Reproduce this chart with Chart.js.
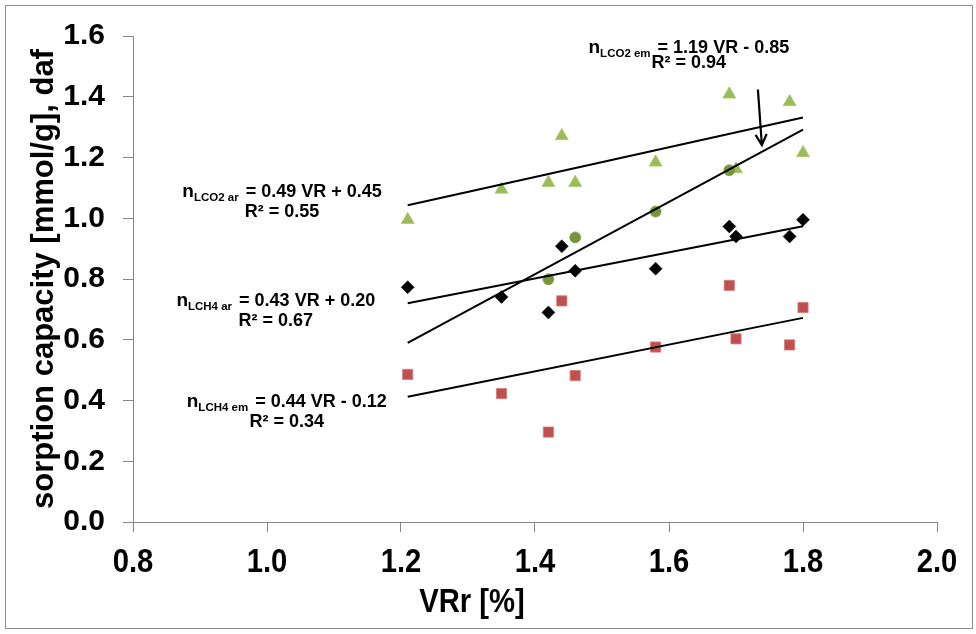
<!DOCTYPE html>
<html>
<head>
<meta charset="utf-8">
<script src="https://cdn.jsdelivr.net/npm/chart.js@4.4.1/dist/chart.umd.min.js"></script>
<style>
  html, body { margin: 0; padding: 0; background: #ffffff; }
  #wrap { width: 976px; height: 634px; }
</style>
</head>
<body>
<div id="wrap"><canvas id="chart" width="976" height="634"></canvas></div>
<script>
// Vitrinite reflectance of the coal samples [%]
const vrSamples = [1.21, 1.35, 1.42, 1.44, 1.46, 1.58, 1.69, 1.70, 1.78, 1.80];
const vrCO2em = [1.42, 1.46, 1.58, 1.69];

// Sorption capacity [mmol/g], daf
const nCO2ar = [0.995, 1.095, 1.117, 1.271, 1.117, 1.184, 1.408, 1.162, 1.383, 1.215];
const nCO2em = [0.799, 0.937, 1.022, 1.158];
const nCH4ar = [0.773, 0.741, 0.690, 0.908, 0.827, 0.834, 0.973, 0.940, 0.940, 0.995];
const nCH4em = [0.486, 0.423, 0.296, 0.728, 0.482, 0.576, 0.779, 0.603, 0.583, 0.706];

// Linear fits: n = slope * VR + intercept   (order: CO2 em, CO2 ar, CH4 ar, CH4 em)
const fitNames = ['LCO2 em', 'LCO2 ar', 'LCH4 ar', 'LCH4 em'];
const fitSlopes = [1.19, 0.49, 0.43, 0.44];
const fitIntercepts = [-0.85, 0.45, 0.20, -0.12];
const fitR2 = [0.94, 0.55, 0.67, 0.34];
const fitRange = [1.21, 1.80];

// Axis ticks
const xTicks = [0.8, 1.0, 1.2, 1.4, 1.6, 1.8, 2.0];
const yTicks = [0.0, 0.2, 0.4, 0.6, 0.8, 1.0, 1.2, 1.4, 1.6];

const pts = (xs, ys) => xs.map((x, i) => ({ x: x, y: ys[i] }));
const fitLine = (k) => fitRange.map(x => ({ x: x, y: fitSlopes[k] * x + fitIntercepts[k] }));

// Equation label placement (in axis units) and arrow pointing at the CO2 em fit
const labelPlacement = [
  { x: 1.6296, y1: 1.5660, y2: 1.5150 },
  { x: 1.0225, y1: 1.0900, y2: 1.0250 },
  { x: 1.0131, y1: 0.7314, y2: 0.6651 },
  { x: 1.0295, y1: 0.3993, y2: 0.3331 }
];
const arrowFrom = { x: 1.7327, y: 1.424 };
const arrowTo = { x: 1.7386, y: 1.241 };

const FONT = '"Liberation Sans", Arial, Helvetica, sans-serif';
const AXIS_GREY = '#868686';
const X_SQUEEZE = 0.86;   // horizontal squeeze of the x-axis lettering

function fmtEq(k) {
  const a = fitSlopes[k].toFixed(2);
  const b = fitIntercepts[k];
  const sign = b < 0 ? '-' : '+';
  return '= ' + a + ' VR ' + sign + ' ' + Math.abs(b).toFixed(2);
}

function drawParts(ctx, cx, baseline, parts) {
  let total = 0;
  parts.forEach(p => {
    ctx.font = p.font;
    p.w = ctx.measureText(p.t).width + (p.gap || 0);
    total += p.w;
  });
  let x = cx - total / 2;
  ctx.textBaseline = 'alphabetic';
  ctx.textAlign = 'left';
  parts.forEach(p => {
    ctx.font = p.font;
    ctx.fillText(p.t, x, baseline + p.dy);
    x += p.w;
  });
}

function squeezedText(ctx, text, cx, cy, font) {
  ctx.save();
  ctx.font = font;
  ctx.textAlign = 'center';
  ctx.textBaseline = 'middle';
  ctx.translate(cx, cy);
  ctx.scale(X_SQUEEZE, 1);
  ctx.fillText(text, 0, 0);
  ctx.restore();
}

const decorPlugin = {
  id: 'decor',
  beforeDraw(chart) {
    const ctx = chart.ctx;
    ctx.save();
    ctx.fillStyle = '#ffffff';
    ctx.fillRect(0, 0, chart.width, chart.height);
    ctx.restore();
  },
  afterDatasetsDraw(chart) {
    const ctx = chart.ctx;
    const xs = chart.scales.x, ys = chart.scales.y;
    ctx.save();
    ctx.fillStyle = '#000000';
    const mainFont = 'bold 18px ' + FONT;
    const nFont = 'bold 19px ' + FONT;
    const subFont = 'bold 11.5px ' + FONT;
    labelPlacement.forEach((lp, k) => {
      const cx = xs.getPixelForValue(lp.x);
      const m1 = ys.getPixelForValue(lp.y1);
      const m2 = ys.getPixelForValue(lp.y2);
      drawParts(ctx, cx, m1 + 6.5, [
        { t: 'n', font: nFont, dy: 0 },
        { t: fitNames[k], font: subFont, dy: 4, gap: 2 },
        { t: ' ' + fmtEq(k), font: mainFont, dy: 0 }
      ]);
      drawParts(ctx, cx, m2 + 6.5, [
        { t: 'R\u00B2 = ' + fitR2[k].toFixed(2), font: mainFont, dy: 0 }
      ]);
    });

    // arrow
    const x0 = xs.getPixelForValue(arrowFrom.x), y0 = ys.getPixelForValue(arrowFrom.y);
    const x1 = xs.getPixelForValue(arrowTo.x), y1 = ys.getPixelForValue(arrowTo.y);
    const ang = Math.atan2(y1 - y0, x1 - x0);
    const head = 12, spread = 0.48;
    ctx.strokeStyle = '#000000';
    ctx.lineWidth = 2.2;
    ctx.lineCap = 'butt';
    ctx.beginPath();
    ctx.moveTo(x0, y0);
    ctx.lineTo(x1, y1);
    ctx.moveTo(x1 - head * Math.cos(ang - spread), y1 - head * Math.sin(ang - spread));
    ctx.lineTo(x1, y1);
    ctx.lineTo(x1 - head * Math.cos(ang + spread), y1 - head * Math.sin(ang + spread));
    ctx.stroke();
    ctx.restore();
  },
  afterDraw(chart) {
    const ctx = chart.ctx;
    const area = chart.chartArea;
    const xs = chart.scales.x;
    ctx.save();
    ctx.fillStyle = '#000000';
    // x tick labels, placed by the x scale
    const tickFont = 'bold 34px ' + FONT;
    xs.ticks.forEach(t => {
      squeezedText(ctx, Number(t.value).toFixed(1), xs.getPixelForValue(t.value), area.bottom + 41, tickFont);
    });
    // axis titles
    squeezedText(ctx, 'VRr [%]', 472, 603, 'bold 34px ' + FONT);
    ctx.textAlign = 'center';
    ctx.textBaseline = 'middle';
    ctx.translate(44, (area.top + area.bottom) / 2);
    ctx.rotate(-Math.PI / 2);
    ctx.font = 'bold 31px ' + FONT;
    ctx.fillText('sorption capacity [mmol/g], daf', 0, 0);
    ctx.restore();
    // outer frame
    ctx.save();
    ctx.strokeStyle = '#8c8c8c';
    ctx.lineWidth = 1;
    ctx.strokeRect(5.5, 5.5, 967, 623);
    ctx.restore();
  }
};

const lineStyle = {
  type: 'line',
  borderColor: '#000000',
  borderWidth: 2,
  pointRadius: 0,
  fill: false,
  tension: 0
};

const chart = new Chart(document.getElementById('chart'), {
  type: 'scatter',
  data: {
    datasets: [
      Object.assign({ label: 'fit CO2 em', data: fitLine(0), order: 0 }, lineStyle),
      Object.assign({ label: 'fit CO2 ar', data: fitLine(1), order: 0 }, lineStyle),
      Object.assign({ label: 'fit CH4 ar', data: fitLine(2), order: 0 }, lineStyle),
      Object.assign({ label: 'fit CH4 em', data: fitLine(3), order: 0 }, lineStyle),
      {
        label: 'CO2 em', data: pts(vrCO2em, nCO2em), order: 1,
        pointStyle: 'circle', pointRadius: 5.5, pointHoverRadius: 5.5,
        backgroundColor: '#77933C', borderColor: '#8aa552', borderWidth: 0.8
      },
      {
        label: 'CO2 ar', data: pts(vrSamples, nCO2ar), order: 2,
        pointStyle: 'triangle', pointRadius: 7.5, pointHoverRadius: 7.5,
        backgroundColor: '#9BBB59', borderColor: '#aac96c', borderWidth: 0.8
      },
      {
        label: 'CH4 ar', data: pts(vrSamples, nCH4ar), order: 3,
        pointStyle: 'rectRot', pointRadius: 6.5, pointHoverRadius: 6.5,
        backgroundColor: '#000000', borderColor: '#000000', borderWidth: 0.5
      },
      {
        label: 'CH4 em', data: pts(vrSamples, nCH4em), order: 4,
        pointStyle: 'rect', pointRadius: 7.2, pointHoverRadius: 7.2,
        backgroundColor: '#C0504D', borderColor: '#d07a78', borderWidth: 0.8
      }
    ]
  },
  options: {
    responsive: false,
    devicePixelRatio: 1,
    animation: false,
    events: [],
    layout: { padding: { left: 0, top: 32, right: 39, bottom: 0 } },
    plugins: {
      legend: { display: false },
      tooltip: { enabled: false },
      title: { display: false }
    },
    scales: {
      x: {
        type: 'linear',
        position: 'bottom',
        min: xTicks[0],
        max: xTicks[xTicks.length - 1],
        afterBuildTicks: (scale) => { scale.ticks = xTicks.map(v => ({ value: v })); },
        afterFit: (scale) => { scale.height = 112; },
        ticks: { display: false, autoSkip: false, maxRotation: 0 },
        grid: {
          display: true, drawOnChartArea: false, drawTicks: true,
          tickLength: 10, color: AXIS_GREY, lineWidth: 1
        },
        border: { display: true, color: AXIS_GREY, width: 1 }
      },
      y: {
        type: 'linear',
        position: 'left',
        min: yTicks[0],
        max: yTicks[yTicks.length - 1],
        afterBuildTicks: (scale) => { scale.ticks = yTicks.map(v => ({ value: v })); },
        afterFit: (scale) => { scale.width = 133; },
        ticks: {
          callback: (v) => Number(v).toFixed(1),
          color: '#000000',
          font: { family: FONT, size: 30, weight: 'bold' },
          padding: 18,
          autoSkip: false
        },
        grid: {
          display: true, drawOnChartArea: false, drawTicks: true,
          tickLength: 10, color: AXIS_GREY, lineWidth: 1
        },
        border: { display: true, color: AXIS_GREY, width: 1 }
      }
    }
  },
  plugins: [decorPlugin]
});
</script>
</body>
</html>
